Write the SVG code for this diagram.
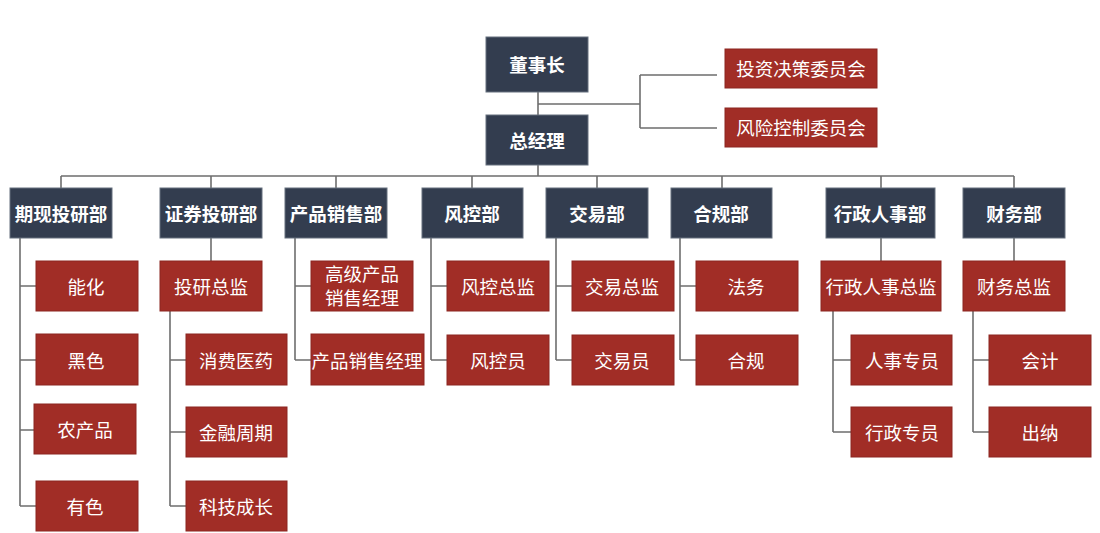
<svg xmlns="http://www.w3.org/2000/svg" width="1100" height="533" viewBox="0 0 1100 533">
<style>
.d{fill:#333d4f;stroke:#66707e;stroke-width:1}
.r{fill:#a12d26;stroke:#8c2620;stroke-width:1}
text{font-family:"Noto Sans CJK SC","Noto Sans",sans-serif;font-size:18.5px;fill:#ffffff;text-anchor:middle;dominant-baseline:central}
.b{font-weight:bold}
#connectors path{fill:none;stroke:#6e6e6e;stroke-width:1.6}
</style>
<rect width="1100" height="533" fill="#ffffff"/>
<g id="connectors">
<path d="M538 92V115M538 104H640M640 75V128M640 75H717M640 128H717"/>
<path d="M538 165V176M61 176H1014M61 176V188M211 176V188M336 176V188M472 176V188M597 176V188M722 176V188M881 176V188M1014 176V188"/>
<path d="M20 238V506M20 286H36M20 360H36M20 430H34M20 506H36"/>
<path d="M211 238V261M170 311V506M170 360H186M170 432H186M170 506H186"/>
<path d="M295 238V360M295 286H311M295 360H311"/>
<path d="M431 238V360M431 286H447M431 360H447"/>
<path d="M556 238V360M556 286H572M556 360H572"/>
<path d="M680 238V360M680 286H696M680 360H696"/>
<path d="M881 238V261M833 311V432M833 360H851M833 432H851"/>
<path d="M1014 238V261M973 311V432M973 360H989M973 432H989"/>
</g>
<g id="n-chairman"><rect class="d" x="486" y="37" width="102" height="55"/><text class="b" x="537" y="64">董事长</text></g>
<g id="n-gm"><rect class="d" x="486" y="115" width="102" height="50"/><text class="b" x="537" y="139.5">总经理</text></g>
<g id="n-invcom"><rect class="r" x="725" y="49" width="152" height="39"/><text x="801" y="68">投资决策委员会</text></g>
<g id="n-riskcom"><rect class="r" x="725" y="108" width="152" height="39"/><text x="801" y="127">风险控制委员会</text></g>

<g id="d-qx"><rect class="d" x="10" y="188" width="102" height="50"/><text class="b" x="61" y="212.5">期现投研部</text></g>
<g id="d-zq"><rect class="d" x="160" y="188" width="102" height="50"/><text class="b" x="211" y="212.5">证券投研部</text></g>
<g id="d-cp"><rect class="d" x="285" y="188" width="102" height="50"/><text class="b" x="336" y="212.5">产品销售部</text></g>
<g id="d-fk"><rect class="d" x="422" y="188" width="101" height="50"/><text class="b" x="472" y="212.5">风控部</text></g>
<g id="d-jy"><rect class="d" x="546" y="188" width="102" height="50"/><text class="b" x="597" y="212.5">交易部</text></g>
<g id="d-hg"><rect class="d" x="671" y="188" width="101" height="50"/><text class="b" x="721" y="212.5">合规部</text></g>
<g id="d-xz"><rect class="d" x="826" y="188" width="109" height="50"/><text class="b" x="880" y="212.5">行政人事部</text></g>
<g id="d-cw"><rect class="d" x="963" y="188" width="102" height="50"/><text class="b" x="1014" y="212.5">财务部</text></g>

<g id="s-nh"><rect class="r" x="36" y="261" width="102" height="50"/><text x="86" y="285.5">能化</text></g>
<g id="s-hs"><rect class="r" x="36" y="334" width="102" height="51"/><text x="86" y="359.5">黑色</text></g>
<g id="s-ncp"><rect class="r" x="34" y="404" width="102" height="50"/><text x="85" y="428.5">农产品</text></g>
<g id="s-ys"><rect class="r" x="36" y="481" width="102" height="50"/><text x="85" y="505.5">有色</text></g>

<g id="s-yjzj"><rect class="r" x="160" y="261" width="102" height="50"/><text x="211" y="285.5">投研总监</text></g>
<g id="s-xfyy"><rect class="r" x="186" y="334" width="101" height="51"/><text x="236" y="359.5">消费医药</text></g>
<g id="s-jrzq"><rect class="r" x="186" y="407" width="101" height="50"/><text x="236" y="431.5">金融周期</text></g>
<g id="s-kjcz"><rect class="r" x="186" y="481" width="101" height="50"/><text x="236" y="505.5">科技成长</text></g>

<g id="s-gjcp"><rect class="r" x="311" y="261" width="102" height="50"/><text x="362" y="272.5">高级产品</text><text x="362" y="296.5">销售经理</text></g>
<g id="s-cpxs"><rect class="r" x="311" y="334" width="113" height="51"/><text x="367" y="359.5">产品销售经理</text></g>

<g id="s-fkzj"><rect class="r" x="447" y="261" width="102" height="50"/><text x="498" y="285.5">风控总监</text></g>
<g id="s-fky"><rect class="r" x="447" y="335" width="102" height="50"/><text x="498" y="359.5">风控员</text></g>

<g id="s-jyzj"><rect class="r" x="572" y="261" width="102" height="50"/><text x="622" y="285.5">交易总监</text></g>
<g id="s-jyy"><rect class="r" x="572" y="335" width="102" height="50"/><text x="622" y="359.5">交易员</text></g>

<g id="s-fw"><rect class="r" x="696" y="261" width="102" height="50"/><text x="746" y="285.5">法务</text></g>
<g id="s-hgy"><rect class="r" x="696" y="335" width="102" height="50"/><text x="746" y="359.5">合规</text></g>

<g id="s-xzzj"><rect class="r" x="821" y="261" width="120" height="50"/><text x="881" y="285.5">行政人事总监</text></g>
<g id="s-rszy"><rect class="r" x="851" y="335" width="101" height="50"/><text x="902" y="359.5">人事专员</text></g>
<g id="s-xzzy"><rect class="r" x="851" y="407" width="101" height="50"/><text x="902" y="431.5">行政专员</text></g>

<g id="s-cwzj"><rect class="r" x="963" y="261" width="102" height="50"/><text x="1014" y="285.5">财务总监</text></g>
<g id="s-kj"><rect class="r" x="989" y="335" width="102" height="50"/><text x="1040" y="359.5">会计</text></g>
<g id="s-cn"><rect class="r" x="989" y="407" width="102" height="50"/><text x="1040" y="431.5">出纳</text></g>
</svg>
